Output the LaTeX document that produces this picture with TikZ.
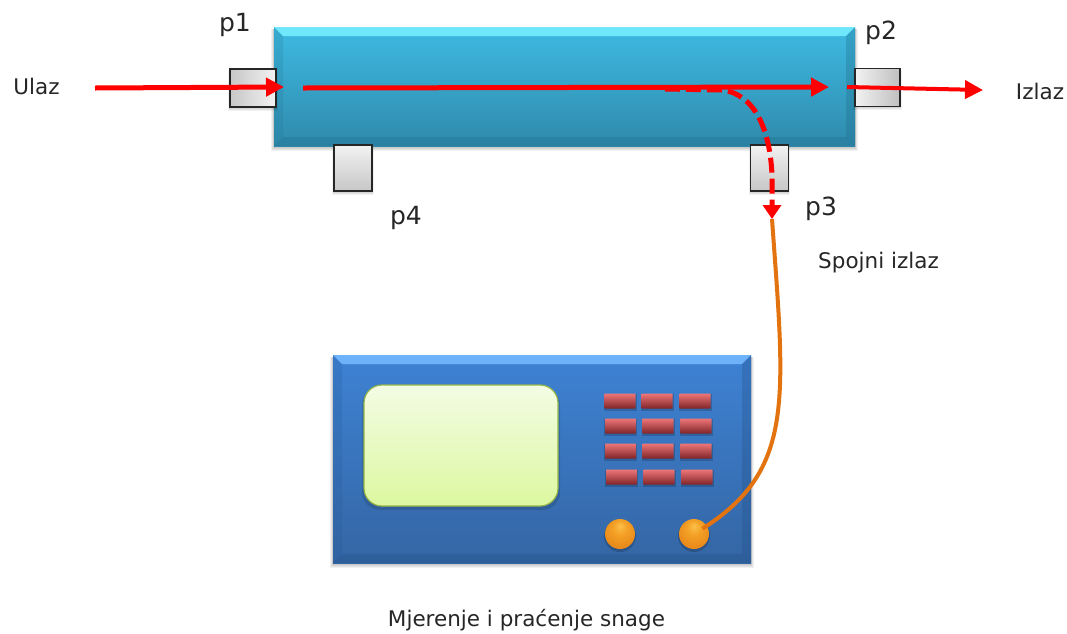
\documentclass[tikz,border=0pt]{standalone}
\usepackage{fontspec}
\setmainfont{DejaVu Sans}
\usetikzlibrary{arrows.meta}
\definecolor{arrowred}{HTML}{FF0000}
\definecolor{fibre}{HTML}{E3730F}
\definecolor{tubeT}{HTML}{3EBAE2}
\definecolor{tubeM}{HTML}{38A8D0}
\definecolor{tubeB}{HTML}{2F8AAC}
\definecolor{tubeHi}{HTML}{6EE8FA}
\definecolor{tubeL}{HTML}{237896}
\definecolor{tubeR}{HTML}{1F6A88}
\definecolor{metT}{HTML}{3E82D4}
\definecolor{metB}{HTML}{3466A4}
\definecolor{metHi}{HTML}{6EB2FA}
\definecolor{metL}{HTML}{285A96}
\definecolor{metR}{HTML}{244F86}
\definecolor{scrT}{HTML}{F3FCE4}
\definecolor{scrB}{HTML}{DCF8A0}
\definecolor{scrD}{HTML}{96B646}
\definecolor{keyT}{HTML}{EE7678}
\definecolor{keyM}{HTML}{C8474B}
\definecolor{keyB}{HTML}{7F2428}
\definecolor{knobA}{HTML}{FBC04A}
\definecolor{knobB}{HTML}{F4A126}
\definecolor{knobC}{HTML}{E8871A}
\definecolor{knobD}{HTML}{B5620F}
\pgfdeclareradialshading{knobshade}{\pgfpoint{0bp}{14bp}}{
  color(0bp)=(knobA); color(12bp)=(knobB); color(30bp)=(knobC); color(50bp)=(knobD)}
\tikzset{
  portbox/.style={draw=black!85,line width=1.1pt,inner sep=0pt},
  lbl/.style={inner sep=0pt,text=black!85},
  biglbl/.style={lbl,font=\fontsize{25}{28}\selectfont},
  smalllbl/.style={lbl,font=\fontsize{21.5}{24}\selectfont},
  sig/.style={arrowred,line width=5pt,-{Triangle[length=18pt,width=18pt]}},
  dashsig/.style={arrowred,line width=5pt,dash pattern=on 15pt off 6pt,-{Triangle[length=14pt,width=18pt]}},
  fibreline/.style={fibre,line width=4pt},
  keybtn/.style={minimum width=31pt,minimum height=15pt,inner sep=0pt,rounded corners=0.5pt,top color=keyT,middle color=keyM,bottom color=keyB},
  knob/.style={circle,minimum size=30pt,inner sep=0pt,shading=knobshade},
}
% soft shadow: nested translucent rectangles, falling below the box
\newcommand{\softshade}[5]{% x1 y1 x2 y2 reach
  \foreach \s in {1,...,#5}{
    \fill[black,opacity=.055] (#1+1-\s*.6,#2+2) rectangle (#3-1+\s*.6,#4-1+\s);
  }
}
\newcommand{\bevelbox}[8]{% x1 y1 x2 y2 bevel topcolor leftcolor rightcolor
  \fill[#6] (#1,#2) -- (#3,#2) -- (#3-#5,#2+#5) -- (#1+#5,#2+#5) -- cycle;
  \fill[#7,opacity=.22] (#1,#2) -- (#1+#5,#2+#5) -- (#1+#5,#4-#5) -- (#1,#4) -- cycle;
  \fill[#8,opacity=.3] (#3,#2) -- (#3-#5,#2+#5) -- (#3-#5,#4-#5) -- (#3,#4) -- cycle;
  \fill[#8,opacity=.3] (#1,#4) -- (#1+#5,#4-#5) -- (#3-#5,#4-#5) -- (#3,#4) -- cycle;
}
\begin{document}
\begin{tikzpicture}[x=1pt,y=-1pt]
\useasboundingbox (0,0) rectangle (1067,633);
\fill[white] (0,0) rectangle (1067,633);

% tube
\softshade{274}{27}{855}{146}{6}
\node[minimum width=581pt,minimum height=119pt,inner sep=0pt,
  top color=tubeT,middle color=tubeM,bottom color=tubeB] (tube) at (564.5,86.5) {};
\bevelbox{274}{27}{855}{146}{9}{tubeHi}{tubeL}{tubeR}

% ports, over the tube's edges
\softshade{230}{69}{276}{107}{5}
\softshade{855}{69}{900}{106}{5}
\softshade{751}{145}{788}{191}{5}
\softshade{334}{145}{372}{191}{5}
\node[portbox,left color=black!22,right color=black!5,minimum width=46pt,minimum height=38pt] (p1) at (253,88) {};
\node[portbox,left color=black!5,right color=black!25,minimum width=45pt,minimum height=38pt] (p2) at (877.5,87.5) {};
\node[portbox,top color=black!5,bottom color=black!22,minimum width=38pt,minimum height=46pt] (p3) at (769.5,168) {};
\node[portbox,top color=black!5,bottom color=black!22,minimum width=38pt,minimum height=46pt] (p4) at (353,168) {};

% meter
\softshade{333}{355}{751}{563}{6}
\node[minimum width=418pt,minimum height=208pt,inner sep=0pt,
  top color=metT,bottom color=metB] (meter) at (542,459) {};
\bevelbox{333}{355}{751}{563}{9}{metHi}{metL}{metR}

% screen
\fill[black,opacity=.12,rounded corners=18pt] (362,387) rectangle (560,510);
\node[draw=scrD,line width=1.2pt,rounded corners=18pt,minimum width=194pt,minimum height=121pt,inner sep=0pt,
  top color=scrT,bottom color=scrB] (screen) at (461,445.5) {};

% keypad
\foreach \kx/\ky in {620/401,657/401,695/401,620.5/426,658/426,696/426,620.5/451,658/451,696/451,621.5/477,659/477,697/477}{
  \fill[black,opacity=.18] (\kx-16.5,\ky-7) rectangle (\kx+16.5,\ky+9.5);
}
\node[keybtn] (k11) at (620,401) {};
\node[keybtn] (k12) at (657,401) {};
\node[keybtn] (k13) at (695,401) {};
\node[keybtn] (k21) at (620.5,426) {};
\node[keybtn] (k22) at (658,426) {};
\node[keybtn] (k23) at (696,426) {};
\node[keybtn] (k31) at (620.5,451) {};
\node[keybtn] (k32) at (658,451) {};
\node[keybtn] (k33) at (696,451) {};
\node[keybtn] (k41) at (621.5,477) {};
\node[keybtn] (k42) at (659,477) {};
\node[keybtn] (k43) at (697,477) {};

% knobs
\fill[black,opacity=.18] (620,536) circle (16);
\fill[black,opacity=.18] (694,536) circle (16);
\node[knob] (knobL) at (620,534) {};
\node[knob] (knobR) at (694,534) {};

% signal end points
\coordinate (inS) at (95,88);
\coordinate (inE) at (284,87);
\coordinate (mainS) at (303,88);
\coordinate (mainE) at (829,87);
\coordinate (outS) at (847,87);
\coordinate (outE) at (983,90);
\coordinate (tapS) at (665,89);
\coordinate (tapE) at (772,219);

\draw[fibreline,shorten >=10pt] (tapE) .. controls (785,400) and (795,470) .. (knobR.center);
\draw[sig] (inS) -- (inE);
\draw[dashsig] (tapS) -- (722,90) .. controls (755,94) and (770,130) .. (772,175) -- (tapE);
\draw[sig] (mainS) -- (mainE);
\draw[sig,line width=4pt] (outS) -- (outE);

% labels
\node[biglbl] at (235,25) {p1};
\node[biglbl] at (881,33) {p2};
\node[biglbl] at (821,209) {p3};
\node[biglbl] at (406,218) {p4};
\node[smalllbl] at (36.5,86) {Ulaz};
\node[smalllbl] at (1040,91) {Izlaz};
\node[smalllbl] at (878.5,263) {Spojni izlaz};
\node[smalllbl] at (526.5,620) {Mjerenje i praćenje snage};
\end{tikzpicture}
\end{document}
